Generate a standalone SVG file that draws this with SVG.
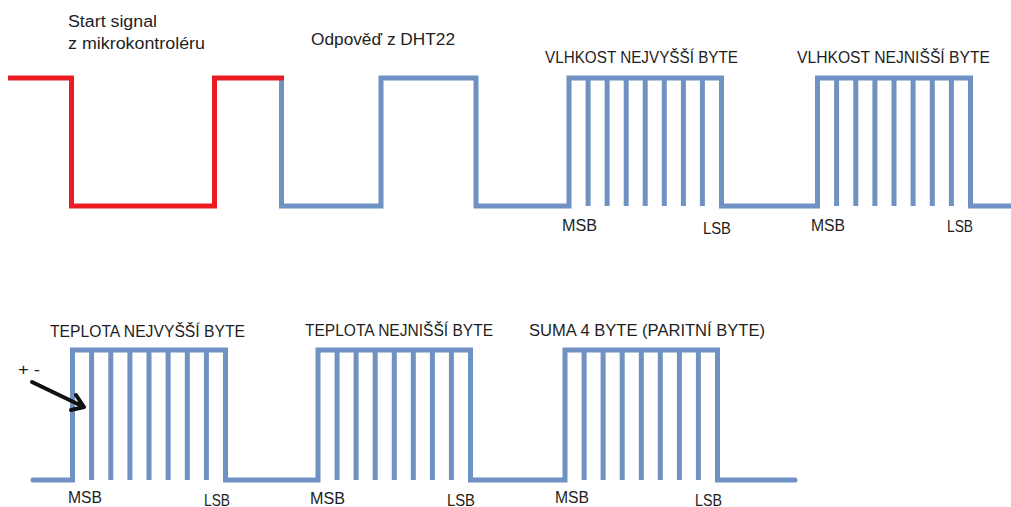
<svg xmlns="http://www.w3.org/2000/svg" width="1011" height="507" viewBox="0 0 1011 507">
<style>
.sig{fill:none;stroke:#6F92C3;stroke-width:5;stroke-linejoin:miter;stroke-linecap:butt}
.red{fill:none;stroke:#EC1C24;stroke-width:5;stroke-linejoin:miter;stroke-linecap:butt}
.bit{fill:none;stroke:#6F92C3;stroke-width:5}
text{font-family:"Liberation Sans",Arial,sans-serif;font-size:16px;fill:#1e1e1e}
.arrow{fill:none;stroke:#111;stroke-width:4;stroke-linecap:round;stroke-linejoin:round}
</style>
<rect width="1011" height="507" fill="#fff"/>
<g id="connectors">
<path class="sig" d="M281.5,78 V206 H381 V78 H476 V206 H569 V78 H721.5 V206 H817.5 V78 H970.5 V206 H1011"/>
<path class="red" d="M8,78 H71.5 V206 H214.5 V78 H284"/>
<path class="sig" d="M33,480 H72.5 V350 H225.5 V480 H318 V350 H470.5 V480 H565 V350 H717.5 V480 H795" style="stroke-linecap:round"/>
</g>
<g id="start">
<text x="68" y="27" textLength="89" lengthAdjust="spacingAndGlyphs">Start signal</text>
<text x="68" y="49" textLength="137" lengthAdjust="spacingAndGlyphs">z mikrokontroléru</text>
</g>
<g id="response">
<text x="311" y="45" textLength="144" lengthAdjust="spacingAndGlyphs">Odpověď z DHT22</text>
</g>
<g id="hum-high">
<path class="bit" d="M588.1,78V206M607.1,78V206M626.2,78V206M645.2,78V206M664.3,78V206M683.4,78V206M702.4,78V206"/>
<text x="545" y="63" textLength="193" lengthAdjust="spacingAndGlyphs">VLHKOST NEJVYŠŠÍ BYTE</text>
<text x="562" y="231" textLength="35" lengthAdjust="spacingAndGlyphs">MSB</text>
<text x="703" y="234" textLength="28" lengthAdjust="spacingAndGlyphs">LSB</text>
</g>
<g id="hum-low">
<path class="bit" d="M836.6,78V206M855.8,78V206M874.9,78V206M894,78V206M913.1,78V206M932.3,78V206M951.4,78V206"/>
<text x="797" y="63" textLength="193" lengthAdjust="spacingAndGlyphs">VLHKOST NEJNIŠŠÍ BYTE</text>
<text x="811" y="231" textLength="34" lengthAdjust="spacingAndGlyphs">MSB</text>
<text x="947" y="232" textLength="26" lengthAdjust="spacingAndGlyphs">LSB</text>
</g>
<g id="temp-high">
<path class="bit" d="M91.6,350V480M110.8,350V480M129.9,350V480M149,350V480M168.1,350V480M187.3,350V480M206.4,350V480"/>
<text x="50" y="337" textLength="195" lengthAdjust="spacingAndGlyphs">TEPLOTA NEJVYŠŠÍ BYTE</text>
<text x="68" y="503" textLength="34" lengthAdjust="spacingAndGlyphs">MSB</text>
<text x="204" y="506" textLength="26" lengthAdjust="spacingAndGlyphs">LSB</text>
</g>
<g id="sign">
<text x="18" y="375" textLength="22" lengthAdjust="spacingAndGlyphs">+ -</text>
<path class="arrow" d="M32,382 L84,407 M76,395 L84,407 L71,410"/>
</g>
<g id="temp-low">
<path class="bit" d="M337.1,350V480M356.1,350V480M375.2,350V480M394.3,350V480M413.3,350V480M432.4,350V480M451.4,350V480"/>
<text x="305" y="336" textLength="188" lengthAdjust="spacingAndGlyphs">TEPLOTA NEJNIŠŠÍ BYTE</text>
<text x="310" y="504" textLength="35" lengthAdjust="spacingAndGlyphs">MSB</text>
<text x="447" y="506" textLength="28" lengthAdjust="spacingAndGlyphs">LSB</text>
</g>
<g id="checksum">
<path class="bit" d="M584.1,350V480M603.1,350V480M622.2,350V480M641.3,350V480M660.3,350V480M679.4,350V480M698.4,350V480"/>
<text x="529" y="336" textLength="236" lengthAdjust="spacingAndGlyphs">SUMA 4 BYTE (PARITNÍ BYTE)</text>
<text x="555" y="503" textLength="34" lengthAdjust="spacingAndGlyphs">MSB</text>
<text x="695" y="506" textLength="27" lengthAdjust="spacingAndGlyphs">LSB</text>
</g>
</svg>
